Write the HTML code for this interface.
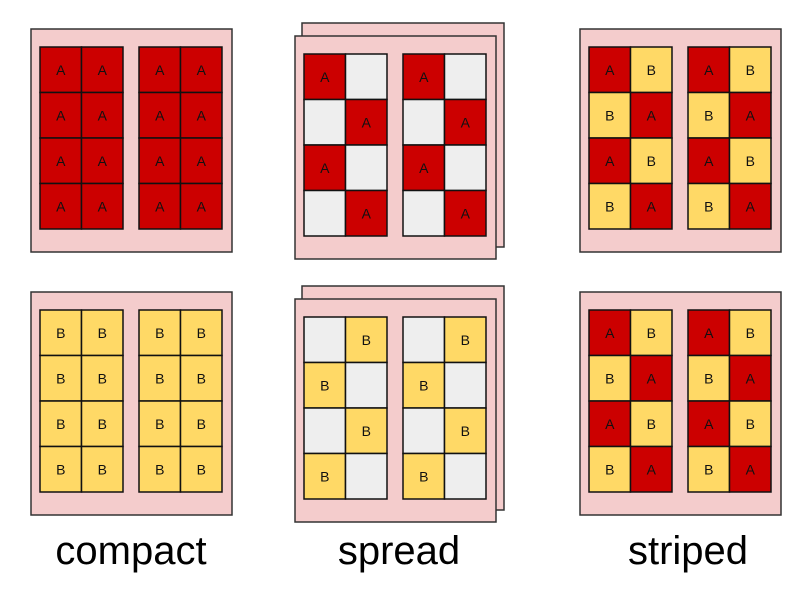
<!DOCTYPE html>
<html><head><meta charset="utf-8"><style>
body{margin:0;background:#fff;width:806px;height:594px;overflow:hidden}
svg{display:block}
</style></head><body>
<svg id="s" width="806" height="594" xmlns="http://www.w3.org/2000/svg"></svg>
<script>
const layouts = ['compact','spread','striped'];
const rowsTop = {
  compact: ['AA','AA','AA','AA'],
  spread:  ['A.','.A','A.','.A'],
  striped: ['AB','BA','AB','BA']
};
const rowsBottom = {
  compact: ['BB','BB','BB','BB'],
  spread:  ['.B','B.','.B','B.'],
  striped: ['AB','BA','AB','BA']
};
const NS='http://www.w3.org/2000/svg';
const svg=document.getElementById('s');
function el(t,a,p){const e=document.createElementNS(NS,t);for(const k in a)e.setAttribute(k,a[k]);(p||svg).appendChild(e);return e;}
const colX={compact:31,spread:295,striped:580};
const fills={A:'#cc0000',B:'#ffd966','.':'#eeeeee'};
function panel(layout,rows,y0,row){
  const x0=colX[layout];
  const g=el('g',{});
  
  
  let by=y0;
  if(layout==='spread'){
    const back=el('rect',{x:x0+7,y:y0-13,width:202,height:224,fill:'#f4cccc',stroke:'#333','stroke-width':1.5},g);
    
    
    by=y0;
  }
  const box=el('rect',{x:x0,y:by,width:201,height:223,fill:'#f4cccc',stroke:'#333','stroke-width':1.5},g);
  
  
  const cw=41.5, ch=45.5;
  [9,108].forEach((dx,gi)=>{
    for(let r=0;r<4;r++)for(let c=0;c<2;c++){
      const v=rows[r][c];
      const cx=x0+dx+c*cw, cy=by+18+r*ch;
      const rc=el('rect',{x:cx,y:cy,width:cw,height:ch,fill:fills[v],stroke:'#111','stroke-width':1.5},g);
      
      
      if(v!=='.'){
        const t=el('text',{x:cx+cw/2,y:cy+ch/2+5,'text-anchor':'middle','font-family':'Liberation Sans, sans-serif','font-size':14,fill:'#111'},g);
        t.textContent=v;
        
        
      }
    }
  });
}
layouts.forEach(l=>{
  panel(l,rowsTop[l],l==='spread'?36:29,'top');
  panel(l,rowsBottom[l],l==='spread'?299:292,'bottom');
});
const labelX={compact:131,spread:399,striped:688};
layouts.forEach(l=>{
  const t=el('text',{x:labelX[l],y:564,'text-anchor':'middle','font-family':'Liberation Sans, sans-serif','font-size':40,fill:'#000'});
  t.textContent=l;
  
  
});
</script>
</body></html>
